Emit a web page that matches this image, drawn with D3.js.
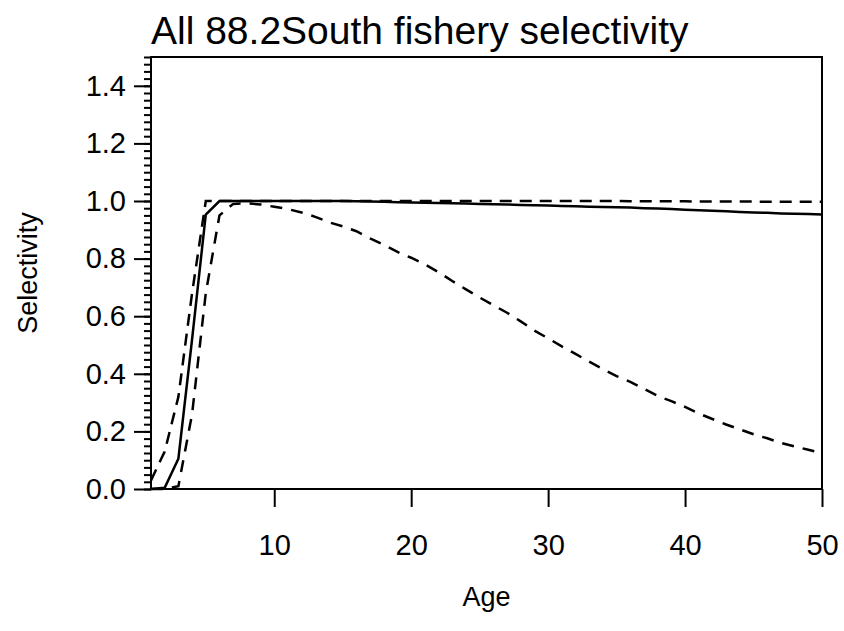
<!DOCTYPE html>
<html>
<head>
<meta charset="utf-8">
<script src="https://cdn.jsdelivr.net/npm/d3@7"></script>
<style>
  body { margin: 0; background: #fff; }
  text { font-family: 'Liberation Sans', Arial, sans-serif; fill: #000; }
</style>
</head>
<body>
<svg width="844" height="631"></svg>
<script>
const ages = d3.range(1, 51);

// estimated selectivity at age
const selEst = [
  0.0, 0.004, 0.105, 0.52, 0.953, 1.0, 1.0, 1.0, 1.0, 1.0,
  1.0, 1.0, 1.0, 1.0, 1.0, 0.999, 0.998, 0.997, 0.996, 0.995,
  0.994, 0.993, 0.992, 0.991, 0.99, 0.989, 0.988, 0.986, 0.985, 0.984,
  0.983, 0.982, 0.98, 0.979, 0.978, 0.977, 0.975, 0.974, 0.972, 0.97,
  0.968, 0.966, 0.964, 0.962, 0.96, 0.959, 0.957, 0.956, 0.955, 0.953
];
const selUpper = [
  0.03, 0.13, 0.32, 0.68, 1.0, 1.0, 1.0, 1.0, 1.0, 1.0,
  1.0, 1.0, 1.0, 1.0, 1.0, 1.0, 1.0, 1.0, 1.0, 1.0,
  1.0, 1.0, 1.0, 1.0, 1.0, 1.0, 1.0, 1.0, 1.0, 1.0,
  1.0, 1.0, 1.0, 1.0, 1.0, 0.999, 0.999, 0.999, 0.999, 0.999,
  0.998, 0.998, 0.998, 0.998, 0.998, 0.997, 0.997, 0.997, 0.997, 0.997
];
const selLower = [
  0.0, 0.0, 0.01, 0.26, 0.68, 0.95, 0.99, 0.992, 0.988, 0.98,
  0.972, 0.96, 0.945, 0.926, 0.912, 0.895, 0.87, 0.848, 0.823, 0.803,
  0.78, 0.753, 0.722, 0.693, 0.665, 0.638, 0.612, 0.582, 0.55, 0.523,
  0.495, 0.469, 0.442, 0.416, 0.392, 0.372, 0.348, 0.323, 0.305, 0.285,
  0.262, 0.243, 0.224, 0.207, 0.19, 0.176, 0.16, 0.148, 0.136, 0.125
];
const xTicks = [10, 20, 30, 40, 50];
const yTicks = [0, 0.2, 0.4, 0.6, 0.8, 1.0, 1.2, 1.4];
const yMinor = d3.range(0, 1.5001, 0.025);

const svg = d3.select('svg');
const margin = { top: 57, right: 22, bottom: 142, left: 151 };
const width = +svg.attr('width') - margin.left - margin.right;
const height = +svg.attr('height') - margin.top - margin.bottom;

const x = d3.scaleLinear().domain([1, 50]).range([0, width]);
const y = d3.scaleLinear().domain([0, 1.5]).range([height, 0]);

const g = svg.append('g')
  .attr('transform', `translate(${margin.left},${margin.top})`);

// minor y ticks
g.append('g')
  .call(d3.axisLeft(y).tickValues(yMinor).tickSize(7).tickFormat(''))
  .call(a => a.select('.domain').remove())
  .selectAll('line').attr('stroke-width', 2);

// major y ticks
g.append('g')
  .attr('class', 'axis axis--y')
  .call(d3.axisLeft(y).tickValues(yTicks).tickSize(17).tickPadding(8)
    .tickFormat(d3.format('.1f')))
  .call(a => a.select('.domain').remove())
  .call(a => a.selectAll('line').attr('stroke-width', 2))
  .call(a => a.selectAll('text')
    .attr('font-size', 29)
    .attr('font-family', "'Liberation Sans', Arial, sans-serif"));

g.append('g')
  .attr('class', 'axis axis--x')
  .attr('transform', `translate(0, ${height})`)
  .call(d3.axisBottom(x).tickValues(xTicks).tickSize(18).tickPadding(27))
  .call(a => a.select('.domain').remove())
  .call(a => a.selectAll('line').attr('stroke-width', 2))
  .call(a => a.selectAll('text')
    .attr('font-size', 29)
    .attr('font-family', "'Liberation Sans', Arial, sans-serif"));

const line = d3.line()
  .x((d, i) => x(ages[i]))
  .y(d => y(d));

g.append('path').datum(selUpper)
  .attr('fill', 'none').attr('stroke', '#000').attr('stroke-width', 2.5)
  .attr('stroke-dasharray', '12,8')
  .attr('d', line);

g.append('path').datum(selLower)
  .attr('fill', 'none').attr('stroke', '#000').attr('stroke-width', 2.5)
  .attr('stroke-dasharray', '12,9')
  .attr('d', line);

g.append('path').datum(selEst)
  .attr('fill', 'none').attr('stroke', '#000').attr('stroke-width', 2.5)
  .attr('d', line);

// box
g.append('rect')
  .attr('width', width).attr('height', height)
  .attr('fill', 'none').attr('stroke', '#000').attr('stroke-width', 2);

svg.append('text')
  .attr('x', margin.left).attr('y', 44)
  .attr('font-size', 39)
  .text('All 88.2South fishery selectivity');

svg.append('text')
  .attr('x', margin.left + width / 2).attr('y', 606)
  .attr('text-anchor', 'middle').attr('font-size', 27)
  .text('Age');

svg.append('text')
  .attr('transform', `translate(37, ${margin.top + height / 2}) rotate(-90)`)
  .attr('text-anchor', 'middle').attr('font-size', 27)
  .text('Selectivity');
</script>
</body>
</html>
